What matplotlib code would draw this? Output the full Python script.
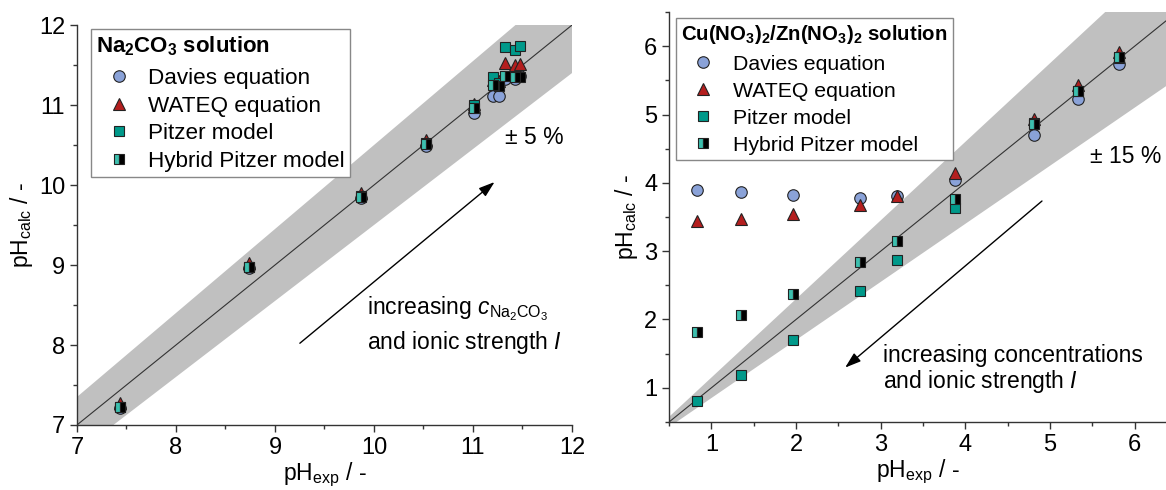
import numpy as np
import matplotlib
matplotlib.use("Agg")
import matplotlib.pyplot as plt
from matplotlib.ticker import MultipleLocator

plt.rcParams["font.family"] = ["Liberation Sans", "DejaVu Sans"]
plt.rcParams["font.size"] = 16
plt.rcParams["mathtext.default"] = "regular"
plt.rcParams["mathtext.fontset"] = "custom"
plt.rcParams["mathtext.rm"] = "Liberation Sans"
plt.rcParams["mathtext.it"] = "Liberation Sans:italic"
plt.rcParams["mathtext.bf"] = "Liberation Sans:bold"

# =====================================================
# Data: Na2CO3 solution
# =====================================================
na_exp = [7.43, 8.74, 9.87, 10.53, 11.01, 11.20, 11.26, 11.32, 11.43, 11.48]
na_davies = [7.21, 8.96, 9.84, 10.49, 10.90, 11.12, 11.12, 11.33, 11.33, 11.36]
na_wateq = [7.28, 9.03, 9.90, 10.56, 11.02, 11.31, 11.30, 11.53, 11.50, 11.52]
na_pitzer = [7.22, 8.98, 9.86, 10.52, 11.00, 11.35, 11.28, 11.73, 11.69, 11.74]
na_hybrid = [7.22, 8.97, 9.85, 10.51, 10.97, 11.25, 11.24, 11.36, 11.35, 11.35]

# =====================================================
# Data: Cu(NO3)2/Zn(NO3)2 solution
# =====================================================
cu_exp = [0.83, 1.35, 1.96, 2.75, 3.19, 3.88, 4.81, 5.33, 5.81]
cu_davies = [3.89, 3.86, 3.82, 3.78, 3.81, 4.04, 4.70, 5.23, 5.74]
cu_wateq = [3.44, 3.47, 3.54, 3.67, 3.80, 4.14, 4.94, 5.43, 5.91]
cu_pitzer = [0.80, 1.19, 1.70, 2.42, 2.87, 3.63, 4.87, 5.34, 5.83]
cu_hybrid = [1.81, 2.06, 2.37, 2.84, 3.15, 3.76, 4.86, 5.35, 5.84]

labels = ["Davies equation", "WATEQ equation", "Pitzer model", "Hybrid Pitzer model"]

# styles
c_blue = "#8aa2d8"
c_red = "#b41e1e"
c_teal = "#00998a"
c_edge = "#222222"
ms = 8.3


def draw_panel(ax, x, series, tol, lims_x, lims_y):
    xx = np.linspace(lims_x[0] - 1, lims_x[1] + 1, 50)
    ax.fill_between(xx, xx * (1 - tol), xx * (1 + tol), color="#c0c0c0", lw=0, zorder=1)
    ax.plot(xx, xx, color="#333333", lw=0.8, zorder=2)

    davies, wateq, pitzer, hybrid = series
    ax.plot(x, davies, "o", ms=ms, mfc=c_blue, mec=c_edge, mew=0.8, label=labels[0], zorder=3)
    ax.plot(x, wateq, "^", ms=ms + 1, mfc=c_red, mec=c_edge, mew=0.8, label=labels[1], zorder=4)
    ax.plot(x, pitzer, "s", ms=ms - 0.5, mfc=c_teal, mec=c_edge, mew=0.8, label=labels[2], zorder=5)
    ax.plot(x, hybrid, "s", ms=ms - 0.5, mfc="#3dbfae", mfcalt="black", fillstyle="left",
            mec=c_edge, mew=0.8, label=labels[3], zorder=6)

    ax.set_xlim(*lims_x)
    ax.set_ylim(*lims_y)
    for side in ["top", "right"]:
        ax.spines[side].set_visible(False)
    for side in ["left", "bottom"]:
        ax.spines[side].set_color("#333333")
        ax.spines[side].set_linewidth(1.0)
    ax.xaxis.set_major_locator(MultipleLocator(1))
    ax.yaxis.set_major_locator(MultipleLocator(1))
    ax.xaxis.set_minor_locator(MultipleLocator(0.5))
    ax.yaxis.set_minor_locator(MultipleLocator(0.5))
    ax.tick_params(which="major", direction="out", length=5, width=1, color="#333333", labelsize=17)
    ax.tick_params(which="minor", direction="out", length=3, width=1, color="#333333")


fig = plt.figure(figsize=(11.66, 4.9), dpi=100)

# =====================================================
# Left panel
# =====================================================
ax1 = fig.add_axes([0.066, 0.1327, 0.4245, 0.816])
draw_panel(ax1, na_exp, [na_davies, na_wateq, na_pitzer, na_hybrid], 0.05, (7, 12), (7, 12))
ax1.set_xlabel("pH$_{exp}$ / -", fontsize=16.5, labelpad=1)
ax1.set_ylabel("pH$_{calc}$ / -", fontsize=16.5, labelpad=3)
leg1 = ax1.legend(loc="upper left", bbox_to_anchor=(0.028, 0.99), borderaxespad=0,
                  title="Na$_2$CO$_3$ solution", title_fontproperties={"weight": "bold", "size": 16},
                  alignment="left", fancybox=False, edgecolor="#888888", framealpha=1,
                  borderpad=0.25, handlelength=2.0, handletextpad=0.3, labelspacing=0.29, fontsize=16.2)
leg1.get_frame().set_linewidth(1.0)
leg1._legend_box.sep = 7.1  # a bit more room below the title
ax1.text(11.32, 10.59, "± 5 %", fontsize=16.5, va="center", ha="left")
ax1.annotate("", xy=(11.24, 10.06), xytext=(9.23, 8.0),
             arrowprops=dict(arrowstyle="-|>,head_length=0.6,head_width=0.2", color="black", lw=1,
                             mutation_scale=16))
ax1.text(9.93, 8.46, r"increasing $\mathit{c}_{Na_2CO_3}$", fontsize=16.5, va="center", ha="left")
ax1.text(9.93, 8.03, r"and ionic strength $\mathit{I}$", fontsize=16.5, va="center", ha="left")

# =====================================================
# Right panel
# =====================================================
ax2 = fig.add_axes([0.5738, 0.1388, 0.4262, 0.8367])
draw_panel(ax2, cu_exp, [cu_davies, cu_wateq, cu_pitzer, cu_hybrid], 0.15, (0.5, 6.37), (0.5, 6.5))
ax2.set_xlabel("pH$_{exp}$ / -", fontsize=16.5, labelpad=1)
ax2.set_ylabel("pH$_{calc}$ / -", fontsize=16.5, labelpad=3)
leg2 = ax2.legend(loc="upper left", bbox_to_anchor=(0.014, 0.985), borderaxespad=0,
                  title="Cu(NO$_3$)$_2$/Zn(NO$_3$)$_2$ solution",
                  title_fontproperties={"weight": "bold", "size": 14.7},
                  alignment="left", fancybox=False, edgecolor="#888888", framealpha=1,
                  borderpad=0.25, handlelength=2.0, handletextpad=0.45, labelspacing=0.38, fontsize=15.3)
leg2.get_frame().set_linewidth(1.0)
ax2.text(5.47, 4.38, "± 15 %", fontsize=16.5, va="center", ha="left")
ax2.annotate("", xy=(2.555, 1.27), xytext=(4.93, 3.76),
             arrowprops=dict(arrowstyle="-|>,head_length=0.6,head_width=0.2", color="black", lw=1,
                             mutation_scale=16))
ax2.text(3.03, 1.48, "increasing concentrations", fontsize=16.5, va="center", ha="left")
ax2.text(3.03, 1.09, r"and ionic strength $\mathit{I}$", fontsize=16.5, va="center", ha="left")

fig.savefig("out.png", dpi=100)
